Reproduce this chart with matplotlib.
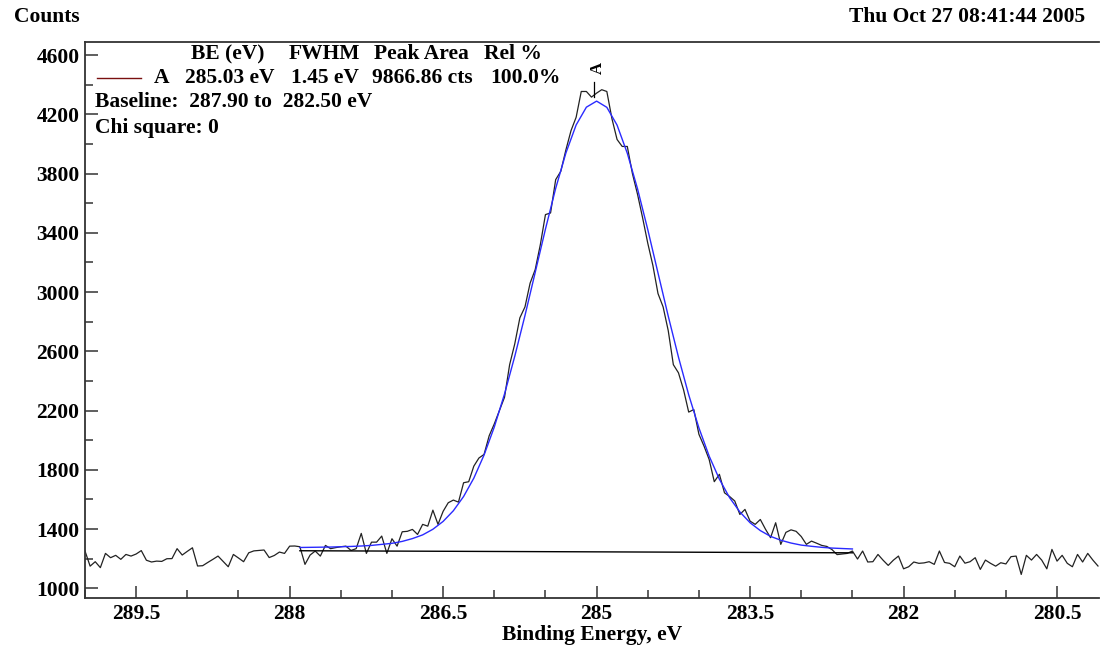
import numpy as np
import matplotlib
matplotlib.use("Agg")
import matplotlib.pyplot as plt
from matplotlib.ticker import MultipleLocator

plt.rcParams['font.family'] = ['Liberation Serif', 'DejaVu Serif']
plt.rcParams['font.weight'] = 'bold'

# raw spectrum, 0.05 eV steps starting at 290.00 eV going down
E_START = 290.0
E_STEP = 0.05
counts = [
    1252, 1150, 1180, 1140, 1236, 1207, 1223, 1196, 1229, 1218,
    1232, 1255, 1190, 1178, 1184, 1182, 1200, 1201, 1268, 1225,
    1250, 1274, 1151, 1153, 1175, 1196, 1218, 1182, 1146, 1229,
    1205, 1180, 1240, 1253, 1256, 1259, 1208, 1222, 1245, 1236,
    1285, 1286, 1281, 1162, 1225, 1252, 1218, 1290, 1268, 1275,
    1281, 1285, 1256, 1268, 1371, 1236, 1312, 1312, 1353, 1236,
    1335, 1285, 1382, 1385, 1398, 1364, 1432, 1420, 1528, 1432,
    1520, 1578, 1596, 1582, 1713, 1720, 1825, 1880, 1904, 2030,
    2110, 2200, 2290, 2510, 2650, 2826, 2900, 3060, 3152, 3320,
    3523, 3534, 3759, 3815, 3960, 4090, 4180, 4354, 4354, 4316,
    4343, 4366, 4354, 4170, 4030, 3983, 3983, 3800, 3660, 3500,
    3330, 3180, 2990, 2900, 2740, 2510, 2455, 2340, 2190, 2207,
    2040, 1960, 1870, 1720, 1770, 1645, 1620, 1590, 1499, 1533,
    1454, 1432, 1465, 1400, 1342, 1443, 1297, 1378, 1395, 1385,
    1350, 1297, 1319, 1305, 1290, 1283, 1262, 1228, 1232, 1236,
    1252, 1198, 1252, 1178, 1180, 1229, 1190, 1155, 1190, 1218,
    1132, 1146, 1178, 1169, 1172, 1180, 1162, 1252, 1175, 1169,
    1146, 1218, 1170, 1180, 1207, 1128, 1191, 1169, 1150, 1173,
    1165, 1214, 1218, 1094, 1223, 1191, 1229, 1191, 1132, 1263,
    1184, 1223, 1169, 1146, 1229, 1178, 1236, 1191, 1151,
]

# fitted envelope, 0.1 eV steps from 287.9 down to 282.5
FIT_START = 287.9
FIT_STEP = 0.1
fit = [
    1276, 1277, 1278, 1279, 1281, 1283, 1286, 1290, 1297, 1304,
    1317, 1336, 1361, 1399, 1452, 1524, 1620, 1744, 1900, 2089,
    2312, 2566, 2842, 3133, 3425, 3700, 3939, 4128, 4248, 4289,
    4247, 4127, 3937, 3697, 3422, 3129, 2838, 2561, 2307, 2083,
    1893, 1737, 1612, 1516, 1443, 1390, 1351, 1325, 1306, 1292,
    1284, 1277, 1272, 1269, 1266,
]

baseline_e = [287.9, 282.5]
baseline_c = [1254, 1240]

peak_be = 285.03
peak_mark = [4315, 4415]

x_ticks = [289.5, 288, 286.5, 285, 283.5, 282, 280.5]
x_labels = ['289.5', '288', '286.5', '285', '283.5', '282', '280.5']
y_ticks = [1000, 1400, 1800, 2200, 2600, 3000, 3400, 3800, 4200, 4600]

# peak table shown in the corner
header = ['BE (eV)', 'FWHM', 'Peak Area', 'Rel %']
row = ['A', '285.03 eV', '1.45 eV', '9866.86 cts', '100.0%']

energy = E_START - E_STEP * np.arange(len(counts))
fit_e = FIT_START - FIT_STEP * np.arange(len(fit))

W, H = 1100, 650
FS = 15.5
fig = plt.figure(figsize=(W / 100, H / 100), dpi=100)
ax = fig.add_axes([85 / W, 1 - 598 / H, 1014 / W, 556 / H])

ax.plot(energy, counts, color='#222222', lw=0.9)
ax.plot(baseline_e, baseline_c, color='black', lw=1.0)
ax.plot(fit_e, fit, color='#2a2aff', lw=1.0)
ax.plot([peak_be, peak_be], peak_mark, color='black', lw=0.9)
ax.text(peak_be - 0.04, peak_mark[1] + 55, 'A', rotation=90, fontsize=12,
        ha='center', va='bottom', fontweight='bold')

ax.set_xlim(290.0, 280.09)
ax.set_ylim(935, 4688)
ax.set_xticks(x_ticks)
ax.set_xticklabels(x_labels)
ax.xaxis.set_minor_locator(MultipleLocator(0.5))
ax.set_yticks(y_ticks)
ax.yaxis.set_minor_locator(MultipleLocator(200))

ax.tick_params(which='major', direction='in', length=9, width=1.1,
               labelsize=FS, pad=4, color='#333333')
ax.tick_params(which='minor', direction='in', length=6, width=1.1,
               color='#333333')
ax.spines['right'].set_visible(False)
for s in ['left', 'top', 'bottom']:
    ax.spines[s].set_linewidth(1.3)
    ax.spines[s].set_color('#333333')

ax.set_xlabel('Binding Energy, eV', fontsize=FS, fontweight='bold', labelpad=1)

def px(x, y):
    return x / W, 1 - y / H

fig.text(*px(14, 17), 'Counts', fontsize=FS, va='center', ha='left')
fig.text(*px(1085, 17), 'Thu Oct 27 08:41:44 2005', fontsize=FS,
         va='center', ha='right')

for x, s in zip([191, 289, 374, 484], header):
    fig.text(*px(x, 54), s, fontsize=FS, va='center', ha='left')
fig.add_artist(plt.Line2D([97 / W, 141 / W], [1 - 78 / H, 1 - 78 / H],
                          color='#7a1010', lw=1.0))
for x, s in zip([154, 185, 291, 372, 490], row):
    fig.text(*px(x, 78), s, fontsize=FS, va='center', ha='left')
fig.text(*px(95, 102), 'Baseline:  287.90 to  282.50 eV', fontsize=FS,
         va='center', ha='left')
fig.text(*px(95, 128), 'Chi square: 0', fontsize=FS, va='center', ha='left')

fig.savefig('out.png', dpi=100)
